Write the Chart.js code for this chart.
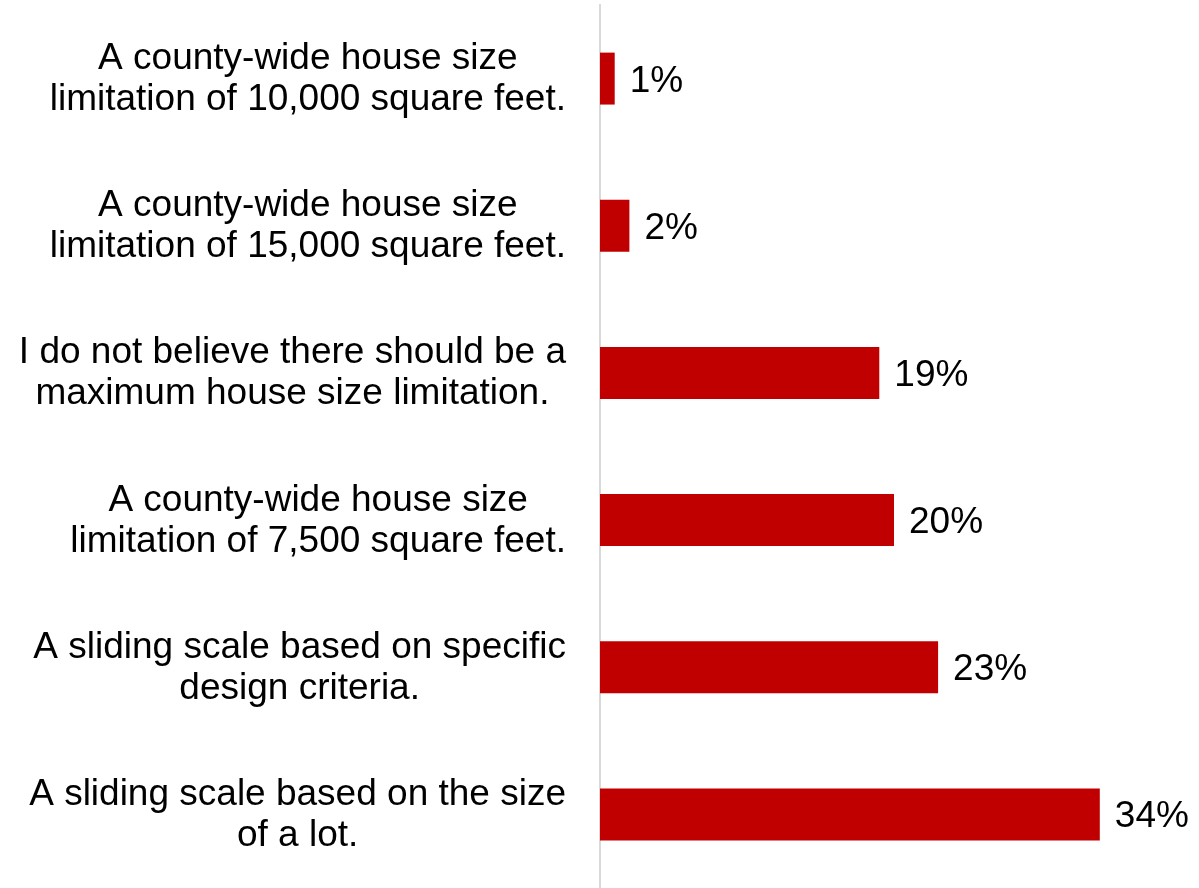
<!DOCTYPE html>
<html>
<head>
<meta charset="utf-8">
<script src="https://cdn.jsdelivr.net/npm/chart.js@4"></script>
<style>
    html, body { margin: 0; padding: 0; background: #fff; }
    #wrap { width: 1199px; height: 888px; position: relative; }
</style>
</head>
<body>
<div id="wrap"><canvas id="sizeChart"></canvas></div>
<script>
// Survey answers, each split into the two lines shown on the axis
const answers = [
    ['A county-wide house size', 'limitation of 10,000 square feet.'],
    ['A county-wide house size', 'limitation of 15,000 square feet.'],
    ['I do not believe there should be a', 'maximum house size limitation.'],
    ['A county-wide house size', 'limitation of 7,500 square feet.'],
    ['A sliding scale based on specific', 'design criteria.'],
    ['A sliding scale based on the size', 'of a lot.']
];

// Share of respondents (%)
const shares = [1, 2, 19, 20, 23, 34];

const FONT = '37px "Liberation Sans", Arial, sans-serif';
const LINE_HEIGHT = 41;
const LABEL_RIGHT = 566;

// Draws the wrapped answer text (block right-aligned, lines centred)
// and the percentage next to each bar
const labelPlugin = {
    id: 'answerLabels',
    afterDatasetsDraw(chart) {
        const ctx = chart.ctx;
        const yScale = chart.scales.y;
        const meta = chart.getDatasetMeta(0);

        ctx.save();
        ctx.font = FONT;
        ctx.fillStyle = '#000';
        ctx.textBaseline = 'alphabetic';

        answers.forEach((lines, i) => {
            const y = yScale.getPixelForTick(i);
            const widest = Math.max(...lines.map(l => ctx.measureText(l).width));
            const cx = LABEL_RIGHT - widest / 2;
            ctx.textAlign = 'center';
            lines.forEach((line, j) => {
                const offset = (j - (lines.length - 1) / 2) * LINE_HEIGHT;
                ctx.fillText(line, cx, y + offset + 11);
            });
        });

        ctx.textAlign = 'left';
        meta.data.forEach((bar, i) => {
            ctx.fillText(shares[i] + '%', bar.x + 15, bar.y + 13);
        });
        ctx.restore();
    }
};

new Chart(document.getElementById('sizeChart'), {
    type: 'bar',
    data: {
        labels: answers,
        datasets: [{
            data: shares,
            backgroundColor: '#C00000',
            borderWidth: 0,
            categoryPercentage: 1,
            barPercentage: 0.353
        }]
    },
    options: {
        indexAxis: 'y',
        responsive: true,
        maintainAspectRatio: false,
        animation: false,
        layout: {
            padding: { top: 5, right: 11, bottom: -2, left: 0 }
        },
        plugins: {
            legend: { display: false },
            tooltip: { enabled: false }
        },
        scales: {
            x: {
                display: false,
                min: 0,
                max: 40
            },
            y: {
                grid: { display: false },
                border: { display: true, color: '#D9D9D9', width: 2 },
                ticks: { display: false },
                afterFit(scale) {
                    scale.width = 600;
                }
            }
        }
    },
    plugins: [labelPlugin]
});
</script>
</body>
</html>
